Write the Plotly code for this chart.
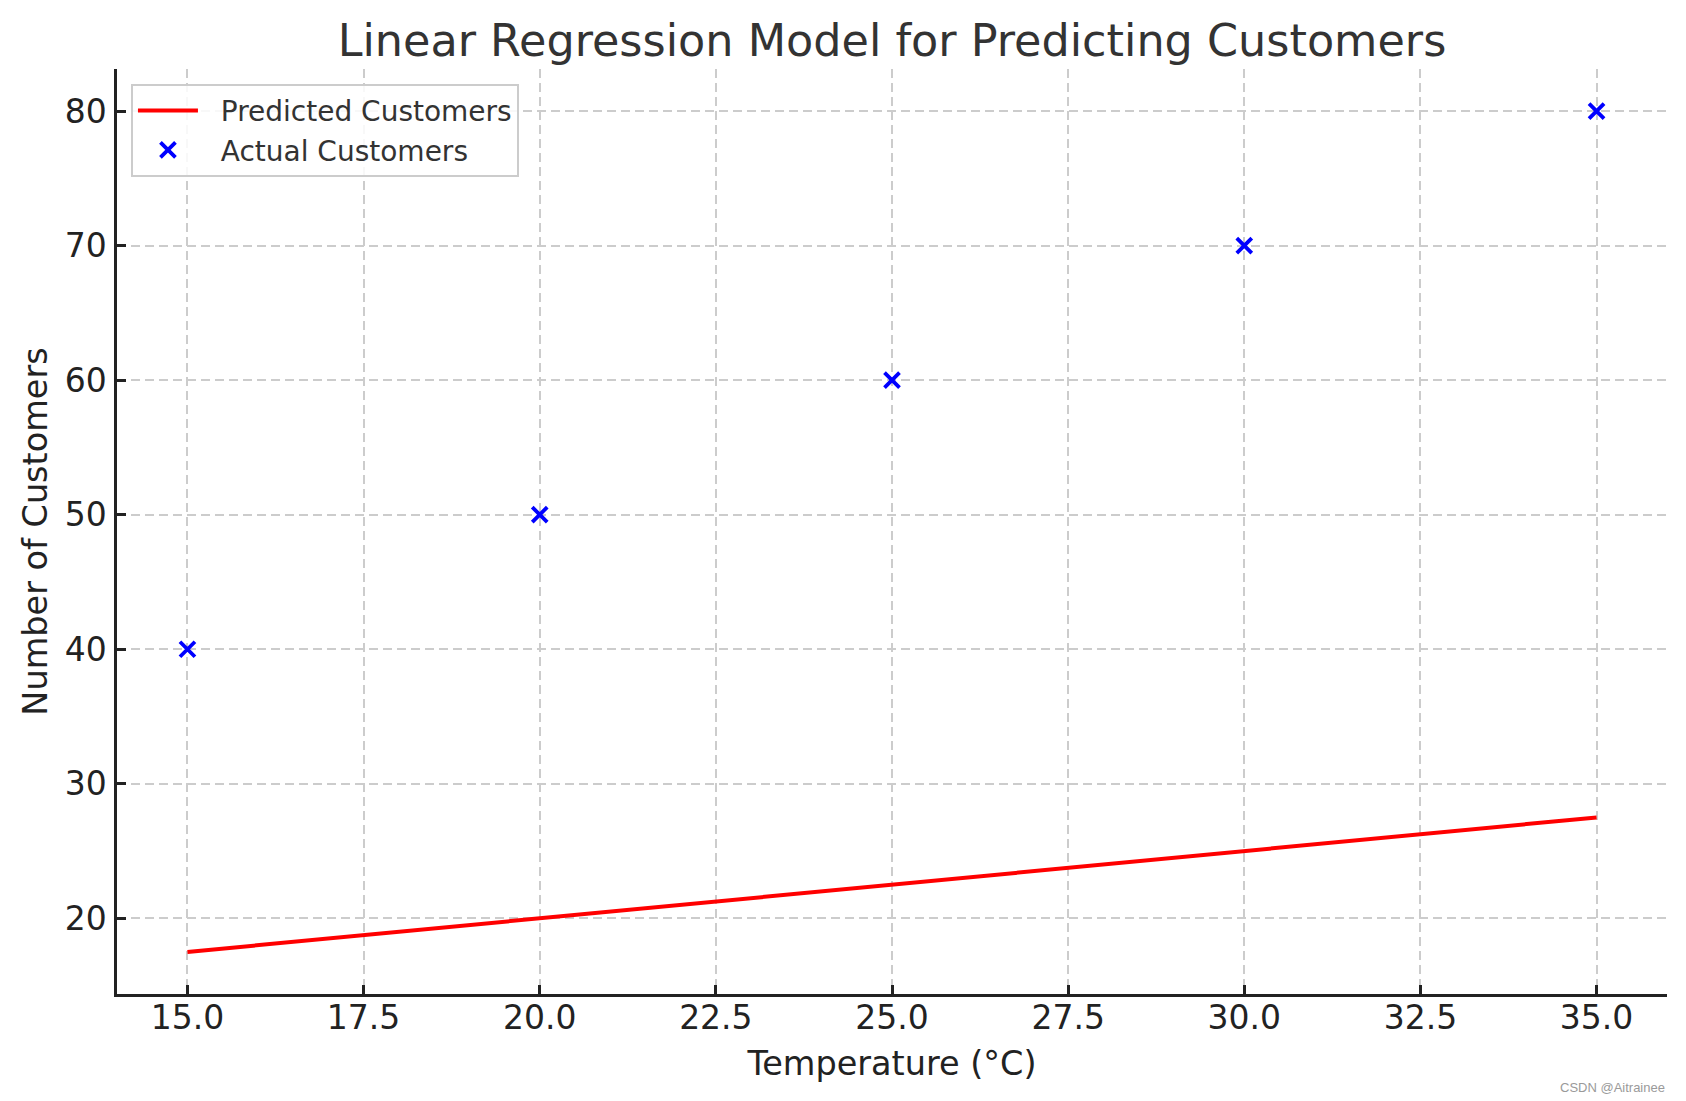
import plotly.graph_objects as go

temperature = [15, 20, 25, 30, 35]
actual_customers = [40, 50, 60, 70, 80]
predicted_customers = [17.5, 20.0, 22.5, 25.0, 27.5]

x_ticks = [15.0, 17.5, 20.0, 22.5, 25.0, 27.5, 30.0, 32.5, 35.0]
y_ticks = [20, 30, 40, 50, 60, 70, 80]

FONT = "DejaVu Sans"
AX = "#222222"
NB = "\u00a0\u00a0"

fig = go.Figure()
fig.add_trace(go.Scatter(
    x=temperature, y=predicted_customers, mode="lines",
    name=NB + "Predicted Customers",
    line=dict(color="#ff0000", width=4),
))
fig.add_trace(go.Scatter(
    x=temperature, y=actual_customers, mode="markers",
    name=NB + "Actual Customers",
    marker=dict(symbol="x-thin-open", size=15, color="#0000ff",
                line=dict(color="#0000ff", width=3.8)),
))

axis_common = dict(
    showgrid=True, gridcolor="#cccccc", gridwidth=1.5, griddash="9px,5px",
    showline=True, linecolor=AX, linewidth=2.5,
    ticks="inside", ticklen=9, tickwidth=2.5, tickcolor=AX,
    tickfont=dict(family=FONT, size=33, color=AX),
    zeroline=False, mirror=False,
)

fig.update_xaxes(
    range=[14, 36], tickvals=x_ticks,
    ticktext=[f"{v:.1f}" for v in x_ticks],
    title=dict(text="Temperature (°C)", font=dict(family=FONT, size=33.5, color=AX), standoff=16),
    ticklabelstandoff=-7,
    **axis_common,
)
fig.update_yaxes(
    range=[14.375, 83.125], tickvals=y_ticks,
    title=dict(text="Number of Customers", font=dict(family=FONT, size=33.5, color=AX), standoff=7),
    ticklabelstandoff=1,
    **axis_common,
)

fig.update_layout(
    width=1686, height=1101,
    margin=dict(l=117, r=19, t=69, b=107, autoexpand=False),
    paper_bgcolor="white", plot_bgcolor="white",
    title=dict(text="Linear Regression Model for Predicting Customers",
               font=dict(family=FONT, size=44.5, color="#333333"),
               x=0.5, xref="paper", xanchor="center",
               y=1 - 40 / 1101, yanchor="middle"),
    legend=dict(
        x=0.009, y=0.984, xanchor="left", yanchor="top",
        bgcolor="rgba(255,255,255,0.85)", bordercolor="#cccccc", borderwidth=2,
        font=dict(family=FONT, size=28, color="#333333"),
        itemwidth=60,
    ),
    showlegend=True,
)

fig.add_annotation(
    text="CSDN @Aitrainee", xref="paper", yref="paper",
    x=1.0, y=-(1087 - 994) / 925, xanchor="right", yanchor="middle",
    showarrow=False, font=dict(family="Liberation Sans", size=13, color="#9a9a9a"),
)

fig.write_html("out.html", config={"displayModeBar": False},
               post_script="document.body.style.margin='0';")
